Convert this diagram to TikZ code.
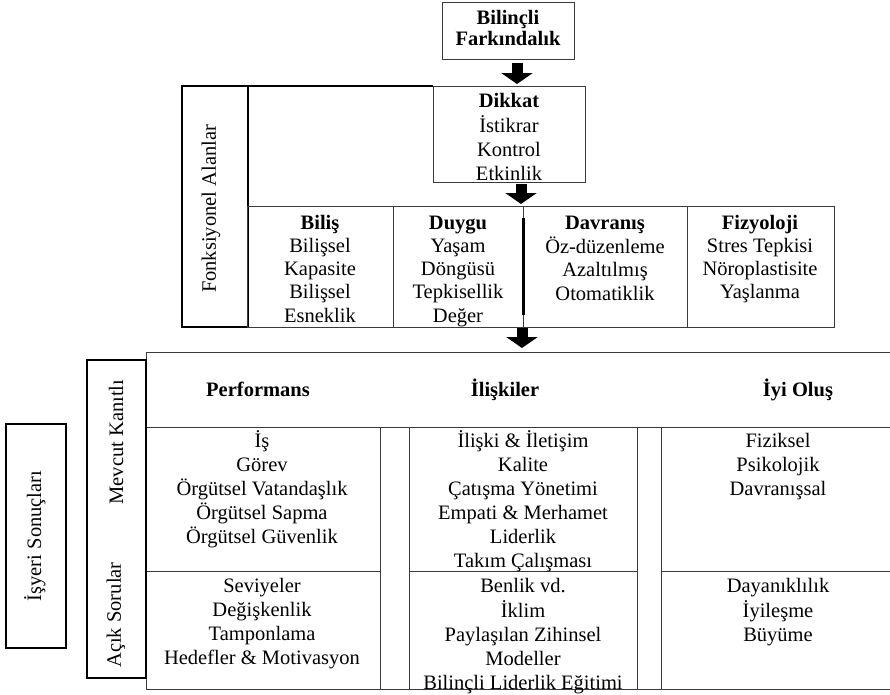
\documentclass[tikz,border=0pt]{standalone}
\usepackage{fontspec}
\setmainfont{Liberation Serif}
\usetikzlibrary{arrows.meta,calc}
\definecolor{linec}{HTML}{3A3A3A}
\newcommand\q{\rule[-.3\baselineskip]{0pt}{\baselineskip}}
\begin{document}
\begin{tikzpicture}[x=1pt,y=-1pt,
  box/.style={draw=linec,line width=0.9pt,inner sep=0pt,outer sep=0pt,anchor=north west},
  heavybox/.style={box,draw=black,line width=1.6pt},
  txt/.style={inner sep=0pt,outer sep=0pt,align=center,anchor=north,font=\fontsize{20.5}{24}\selectfont},
  txtU/.style={txt,font=\fontsize{20.5}{23.3}\selectfont},
  txtT/.style={txt,font=\fontsize{20.5}{21}\selectfont},
  vtxt/.style={inner sep=0pt,outer sep=0pt,rotate=90,font=\fontsize{20.5}{24}\selectfont},
  bigarrow/.style={draw=black,line width=11pt,-{Triangle[length=11pt,width=31pt]}}
]
\useasboundingbox[fill=white] (0,0) rectangle (890,694);

% ---------- upper part ----------
\node[box,minimum width=132pt,minimum height=57pt] (bf) at (442,2) {};
\node[txtT] (bft) at (508,9.3) {\q\textbf{Bilinçli}\\\q\textbf{Farkındalık}};

\node[box,minimum width=152pt,minimum height=96pt] (dk) at (433,86) {};
\node[txt] (dkt) at (509,90.2) {\q\textbf{Dikkat}\\\q İstikrar\\\q Kontrol\\\q Etkinlik};

\node[heavybox,minimum width=66pt,minimum height=241pt] (fa) at (182,86) {};
\node[vtxt] (fat) at (211,209) {Fonksiyonel Alanlar};
\draw[black,line width=1.2pt] (fa.north east) -- (dk.north west);

\node[box,minimum width=146pt,minimum height=121pt] (c1) at (247,206) {};
\node[box,minimum width=130pt,minimum height=121pt] (c2) at (393,206) {};
\node[box,minimum width=164pt,minimum height=121pt] (c3) at (523,206) {};
\node[box,minimum width=147pt,minimum height=121pt] (c4) at (687,206) {};
\draw[black,line width=3pt] ([yshift=-12pt]c3.north west) -- ([yshift=12pt]c3.south west);

\node[txtU] (c1t) at (320,212.7) {\q\textbf{Biliş}\\\q Bilişsel\\\q Kapasite\\\q Bilişsel\\\q Esneklik};
\node[txtU] (c2t) at (458,212.7) {\q\textbf{Duygu}\\\q Yaşam\\\q Döngüsü\\\q Tepkisellik\\\q Değer};
\node[txtU] (c3t) at (605,212.7) {\q\textbf{Davranış}\\\q Öz-düzenleme\\\q Azaltılmış\\\q Otomatiklik};
\node[txtU] (c4t) at (760,212.7) {\q\textbf{Fizyoloji}\\\q Stres Tepkisi\\\q Nöroplastisite\\\q Yaşlanma};

% ---------- lower part ----------
\node[box,minimum width=745pt,minimum height=75pt] (hdr) at (146,352) {};
\node[box,minimum width=234pt,minimum height=144pt] (p1) at (146,427) {};
\node[box,minimum width=234pt,minimum height=118pt] (p2) at (146,571) {};
\node[box,minimum width=29pt,minimum height=262pt] (g1) at (380,427) {};
\node[box,minimum width=228pt,minimum height=144pt] (r1) at (409,427) {};
\node[box,minimum width=228pt,minimum height=118pt] (r2) at (409,571) {};
\node[box,minimum width=24pt,minimum height=262pt] (g2) at (637,427) {};
\node[box,minimum width=230pt,minimum height=144pt] (w1) at (661,427) {};
\node[box,minimum width=230pt,minimum height=118pt] (w2) at (661,571) {};

\node[heavybox,minimum width=59pt,minimum height=318pt] (mk) at (87,360) {};
\node[vtxt] (mkt) at (116,442) {Mevcut Kanıtlı};
\node[vtxt] (ast) at (116,615) {Açık Sorular};
\node[heavybox,minimum width=60pt,minimum height=224pt] (is) at (6,424) {};
\node[vtxt] (ist) at (35,536) {İşyeri Sonuçları};

\node[txt] (h1) at (258,379.2) {\q\textbf{Performans}};
\node[txt] (h2) at (505,379.2) {\q\textbf{İlişkiler}};
\node[txt] (h3) at (798,379.2) {\q\textbf{İyi Oluş}};

\node[txt] (p1t) at (262,430.2) {\q İş\\\q Görev\\\q Örgütsel Vatandaşlık\\\q Örgütsel Sapma\\\q Örgütsel Güvenlik};
\node[txt] (r1t) at (523,430.2) {\q İlişki \& İletişim\\\q Kalite\\\q Çatışma Yönetimi\\\q Empati \& Merhamet\\\q Liderlik\\\q Takım Çalışması};
\node[txt] (w1t) at (778,430.2) {\q Fiziksel\\\q Psikolojik\\\q Davranışsal};
\node[txt] (p2t) at (262,575.2) {\q Seviyeler\\\q Değişkenlik\\\q Tamponlama\\\q Hedefler \& Motivasyon};
\node[txt] (r2t) at (523,575.2) {\q Benlik vd.\\\q İklim\\\q Paylaşılan Zihinsel\\\q Modeller\\\q Bilinçli Liderlik Eğitimi};
\node[txt] (w2t) at (778,575.2) {\q Dayanıklılık\\\q İyileşme\\\q Büyüme};

% ---------- arrows ----------
\draw[bigarrow,shorten <=4pt,shorten >=2pt] ([xshift=9pt]bf.south) -- ([xshift=9pt]bf.south |- dk.north);
\draw[bigarrow,shorten <=2pt,shorten >=2pt] ([xshift=12pt]dk.south) -- ([xshift=12pt]dk.south |- c3.north);
\draw[bigarrow,shorten <=1pt,shorten >=4pt] ([xshift=-1pt]c3.south west) -- ([xshift=-1pt]c3.south west |- hdr.north);
\end{tikzpicture}
\end{document}
